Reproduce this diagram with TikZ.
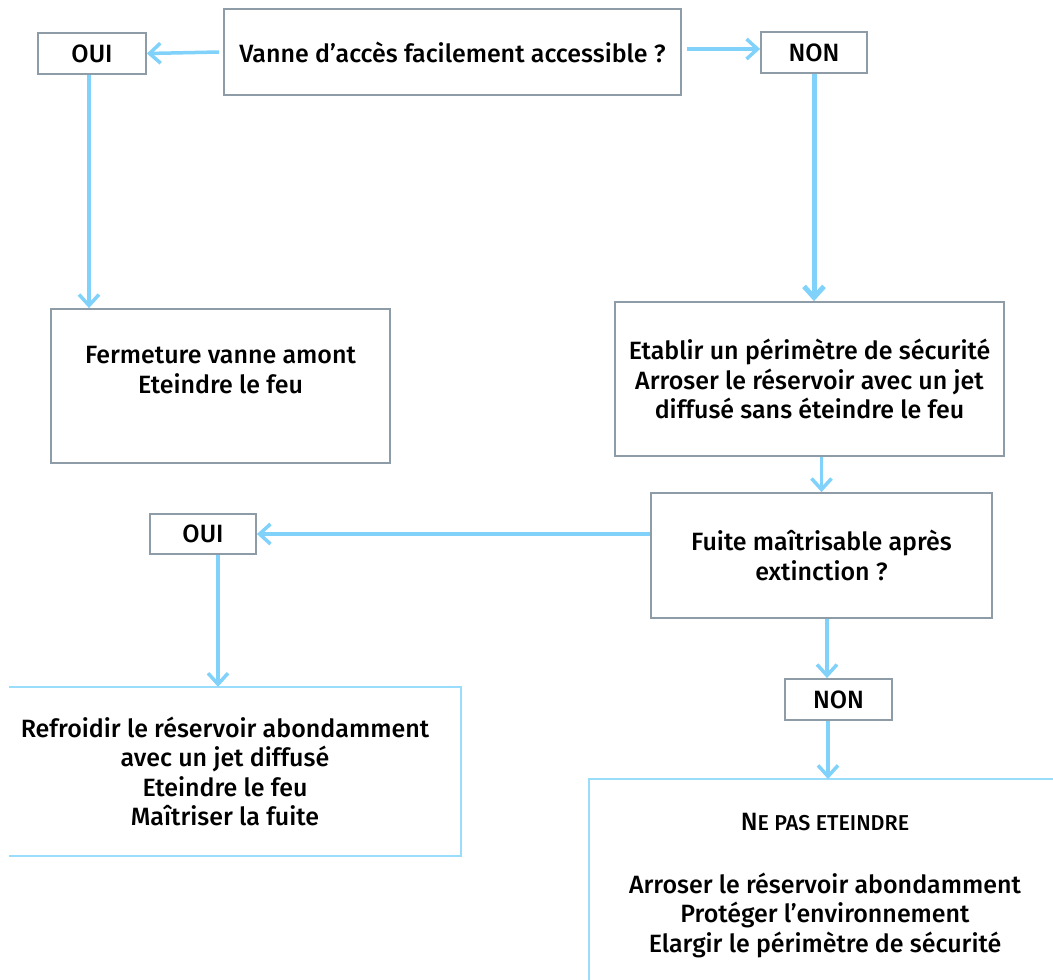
\documentclass[tikz,border=0pt]{standalone}
\usepackage{fontspec}
\setmainfont{Fira Sans}[UprightFont={* Medium}]
\usetikzlibrary{arrows.meta,calc}
\definecolor{arrowblue}{HTML}{80D2FA}
\definecolor{boxgray}{HTML}{8E9CA8}
\definecolor{boxblue}{HTML}{9ADCFB}
\begin{document}
\begin{tikzpicture}[x=1pt,y=-1pt,
  box/.style={draw=boxgray,line width=1.8pt,fill=white,inner sep=0pt,align=center,font=\fontsize{25}{29.5}\selectfont},
  frame/.style={inner sep=0pt},
  txt/.style={inner sep=0pt,align=center,font=\fontsize{25}{29.5}\selectfont},
  arr/.style={draw=arrowblue,line width=3.5pt,-{Straight Barb[length=11pt,width=20pt]}},
  openbox/.style={draw=boxblue,line width=2pt}]
\useasboundingbox (0,0) rectangle (1053,980);
% question 1
\node[box,minimum width=457pt,minimum height=86pt] (q1) at (452.5,52) {Vanne d’accès facilement accessible ?};
\node[box,minimum width=108pt,minimum height=41pt] (oui1) at (92,53.5) {OUI};
\node[box,minimum width=106pt,minimum height=41pt] (non1) at (814,52.5) {NON};
% actions
\node[box,minimum width=339pt,minimum height=154pt] (fer) at (220.5,386) {};
\node[txt] (fertxt) at ($(fer.center)+(0,-16)$) {Fermeture vanne amont\\Eteindre le feu};
\node[box,minimum width=389pt,minimum height=154pt] (eta) at (809.5,379) {Etablir un périmètre de sécurité\\Arroser le réservoir avec un jet\\diffusé sans éteindre le feu};
\node[box,minimum width=341pt,minimum height=125pt] (q2) at (821.5,555.5) {Fuite maîtrisable après\\extinction ?};
\node[box,minimum width=106pt,minimum height=40pt] (oui2) at (203,534) {OUI};
\node[box,minimum width=107pt,minimum height=41pt] (non2) at (838.5,699.5) {NON};
% open bottom boxes
\node[frame,minimum width=452pt,minimum height=169pt] (ref) at (235,771.5) {};
\draw[openbox] (ref.north west) -- (ref.north east) -- (ref.south east) -- (ref.south west);
\node[txt] (reftxt) at ($(ref.center)+(-10,0)$) {Refroidir le réservoir abondamment\\avec un jet diffusé\\Eteindre le feu\\Maîtriser la fuite};
\node[frame,minimum width=480pt,minimum height=220pt,anchor=north west] (nep) at (589,779) {};
\draw[openbox] (nep.south west) -- (nep.north west) -- (nep.north east);
\node[txt] (neptitle) at (825,822) {N{\fontsize{21.5}{24}\selectfont E PAS ETEINDRE}};
\node[txt] (neptxt) at (825,915) {Arroser le réservoir abondamment\\Protéger l’environnement\\Elargir le périmètre de sécurité};
% connector anchors
\coordinate (c1) at ($(q1.west)+(-4,0)$);
\coordinate (c2) at ($(q1.east)+(5,-3)$);
\coordinate (c3) at ($(oui1.south)+(-3,0)$);
\coordinate (c4) at ($(oui2.south)+(15,0)$);
\coordinate (c5) at ($(q2.south)+(5.5,0)$);
\coordinate (c6) at ($(non2.south)+(-10.5,0)$);
% connectors
\draw[arr] (c1) -- (oui1.east);
\draw[arr] (c2) -- (non1.west |- c2);
\draw[arr] (c3) -- (c3 |- fer.north);
\draw[arr,line width=5pt] (non1.south) -- (non1.south |- eta.north);
\draw[arr] (q2.north |- eta.south) -- (q2.north);
\draw[arr] (q2.west |- oui2.east) -- (oui2.east);
\draw[arr] (c4) -- (c4 |- ref.north);
\draw[arr] (c5) -- (c5 |- non2.north);
\draw[arr] (c6) -- (c6 |- nep.north);
\end{tikzpicture}
\end{document}
